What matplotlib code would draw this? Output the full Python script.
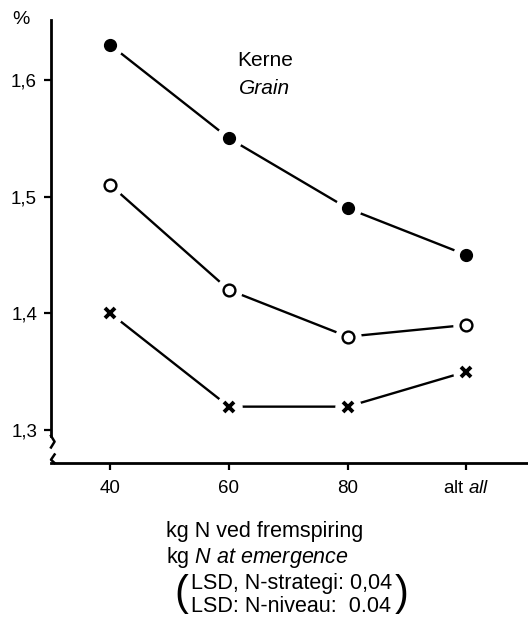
import numpy as np
import matplotlib
matplotlib.use('Agg')
import matplotlib.pyplot as plt

plt.rcParams['font.family'] = ['Liberation Sans', 'DejaVu Sans']
plt.rcParams['mathtext.fontset'] = 'custom'
plt.rcParams['mathtext.rm'] = 'Liberation Sans'
plt.rcParams['mathtext.it'] = 'Liberation Sans:italic'

# data
categories = ['40', '60', '80', r'alt $\it{all}$']
filled = [1.63, 1.55, 1.49, 1.45]
opened = [1.51, 1.42, 1.38, 1.39]
crosses = [1.40, 1.32, 1.32, 1.35]
yticks = [1.3, 1.4, 1.5, 1.6]
ytick_labels = ['1,3', '1,4', '1,5', '1,6']

fig = plt.figure(figsize=(5.28, 6.17), dpi=100)
ax = fig.add_axes([0.0966, 0.2496, 0.9034, 0.718])
x = np.arange(len(categories))

series = [
    (filled, dict(marker='o', markersize=8.5, markerfacecolor='black', markeredgecolor='black')),
    (opened, dict(marker='o', markersize=8.5, markerfacecolor='white', markeredgecolor='black', markeredgewidth=1.7)),
    (crosses, dict(marker='x', markersize=7, markeredgecolor='black', markeredgewidth=2.8)),
]
for vals, style in series:
    ax.plot(x, vals, color='black', lw=1.7, zorder=1)
    # white halo so the line stops short of each marker
    ax.plot(x, vals, ls='none', marker='o', markersize=19, markerfacecolor='white',
            markeredgecolor='none', zorder=2)
    ax.plot(x, vals, ls='none', zorder=3, **style)

ax.set_xlim(-0.5, 3.52)
ax.set_ylim(1.2717, 1.6514)
ax.set_xticks(x)
ax.set_xticklabels(categories, fontsize=13.5)
ax.set_yticks(yticks)
ax.set_yticklabels(ytick_labels, fontsize=13.5)
ax.tick_params(axis='both', direction='out', length=5, width=1.6, color='black')
ax.tick_params(axis='x', pad=7)
ax.tick_params(axis='y', pad=5)

for s in ['top', 'right']:
    ax.spines[s].set_visible(False)
ax.spines['left'].set_linewidth(2)
ax.spines['bottom'].set_linewidth(2)
ax.spines['left'].set_bounds(1.295, 1.6514)

# axis break marks
ax.plot([-0.5, -0.47, -0.5], [1.295, 1.29, 1.285], color='black', lw=1.8, clip_on=False)
ax.plot([-0.47, -0.5, -0.47], [1.279, 1.2745, 1.2717], color='black', lw=1.8, clip_on=False)

fig.text(12 / 528, 1 - 20 / 617, '%', fontsize=14, ha='left', va='center')
fig.text(265 / 528, 1 - 61 / 617, 'Kerne', fontsize=15, ha='center', va='center')
fig.text(265 / 528, 1 - 88 / 617, 'Grain', fontsize=15, ha='center', va='center', style='italic')

fig.text(166 / 528, 1 - 531 / 617, 'kg N ved fremspiring', fontsize=15.5, ha='left', va='center')
fig.text(166 / 528, 1 - 557 / 617, r'kg $\it{N\ at\ emergence}$', fontsize=15.5, ha='left', va='center')
fig.text(191 / 528, 1 - 584 / 617, 'LSD, N-strategi: 0,04', fontsize=15.5, ha='left', va='center')
fig.text(191 / 528, 1 - 607 / 617, 'LSD: N-niveau:  0.04', fontsize=15.5, ha='left', va='center')
fig.text(181 / 528, 1 - 594 / 617, '(', fontsize=30, ha='center', va='center')
fig.text(402 / 528, 1 - 594 / 617, ')', fontsize=30, ha='center', va='center')

fig.savefig('out.png', dpi=100)
